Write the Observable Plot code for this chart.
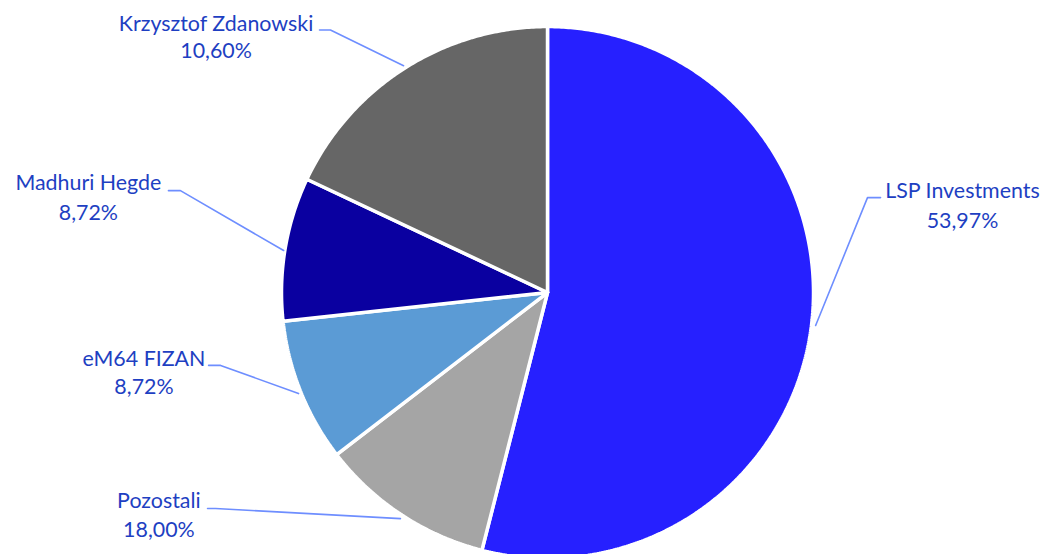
<!DOCTYPE html>
<html><head><meta charset="utf-8">
<script src="https://cdn.jsdelivr.net/npm/d3@7"></script>
<script src="https://cdn.jsdelivr.net/npm/@observablehq/plot@0.6"></script>
<style>html,body{margin:0;padding:0;background:#fff}svg{display:block}</style>
</head><body><div id="chart"></div>
<script>
// Data (clockwise from 12 o'clock)
const categories = ["LSP Investments", "Krzysztof Zdanowski", "eM64 FIZAN", "Madhuri Hegde", "Pozostali"];
const shares = [53.97, 10.60, 8.72, 8.72, 18.00];
const sliceColors = ["#2620FF", "#A5A5A5", "#5B9BD5", "#0A00A0", "#666666"];

// Label layout, in pie-radius units relative to the pie centre (manually placed labels)
const labelLayout = {
  "LSP Investments":     {name: [1.560, 0.357],  pct: [1.560, 0.244],  leader: [[1.252, 0.357], [1.203, 0.357], [1.008, -0.124]]},
  "Krzysztof Zdanowski": {name: [-1.246, 0.985], pct: [-1.246, 0.880], leader: [[-0.857, 0.987], [-0.816, 0.987], [-0.541, 0.853]]},
  "eM64 FIZAN":          {name: [-1.517, -0.278], pct: [-1.517, -0.383], leader: [[-1.274, -0.274], [-1.229, -0.274], [-0.936, -0.380]]},
  "Madhuri Hegde":       {name: [-1.726, 0.387], pct: [-1.726, 0.274], leader: [[-1.425, 0.383], [-1.380, 0.383], [-0.992, 0.158]]},
  "Pozostali":           {name: [-1.461, -0.812], pct: [-1.461, -0.921], leader: [[-1.278, -0.812], [-1.248, -0.812], [-0.553, -0.850]]}
};

const W = 1044, H = 554;
const fmtPct = v => d3.format(".2f")(v).replace(".", ",") + "%";
const total = d3.sum(shares);

// slice polygons
const sliceMarks = [];
let start = 0;
categories.forEach((c, i) => {
  const a0 = start, a1 = start + shares[i] / total * 2 * Math.PI;
  start = a1;
  const pts = [{x: 0, y: 0}];
  const n = Math.max(2, Math.ceil((a1 - a0) / (Math.PI / 360)));
  for (let k = 0; k <= n; k++) {
    const a = a0 + (a1 - a0) * k / n;
    pts.push({x: Math.sin(a), y: Math.cos(a)});
  }
  pts.push({x: 0, y: 0});
  sliceMarks.push(Plot.line(pts, {x: "x", y: "y", fill: sliceColors[i], stroke: "white", strokeWidth: 3.5, strokeLinejoin: "miter"}));
});

const leaderPts = [];
const nameRows = [], pctRows = [];
categories.forEach((c, i) => {
  const L = labelLayout[c];
  L.leader.forEach(p => leaderPts.push({cat: c, x: p[0], y: p[1]}));
  nameRows.push({x: L.name[0], y: L.name[1], t: c});
  pctRows.push({x: L.pct[0], y: L.pct[1], t: fmtPct(shares[i])});
});

const font = "Lato, 'Open Sans', sans-serif";
const textColor = "#1E3FC2";
const chart = Plot.plot({
  width: W, height: H,
  margin: 0,
  x: {domain: [-2.0564, 1.8684], range: [0, W], axis: null},
  y: {domain: [-0.985, 1.098], range: [H, 0], axis: null},
  style: {background: "white", fontFamily: font},
  marks: [
    ...sliceMarks,
    Plot.line(leaderPts, {x: "x", y: "y", z: "cat", stroke: "#6E8EFF", strokeWidth: 1.6}),
    Plot.text(nameRows, {x: "x", y: "y", text: "t", textAnchor: "middle", lineAnchor: "bottom", fontSize: 21.4, fill: textColor, fontFamily: font}),
    Plot.text(pctRows, {x: "x", y: "y", text: "t", textAnchor: "middle", lineAnchor: "bottom", fontSize: 21.4, fill: textColor, fontFamily: font})
  ]
});
document.getElementById("chart").appendChild(chart);
</script>
</body></html>
